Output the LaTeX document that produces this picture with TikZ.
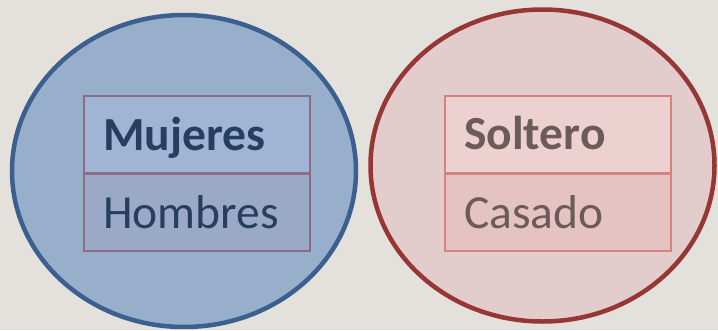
\documentclass[tikz,border=0pt]{standalone}
\usepackage{fontspec}
\setmainfont{Carlito}
\usetikzlibrary{shapes.geometric}
\definecolor{bgc}{HTML}{E4E1DD}
\definecolor{bluefill}{HTML}{98AFCB}
\definecolor{blueline}{HTML}{3B5F8E}
\definecolor{bluetop}{HTML}{A0B5D3}
\definecolor{bluebot}{HTML}{99A9C6}
\definecolor{mauve}{HTML}{8E6B84}
\definecolor{bluetext}{HTML}{263F5E}
\definecolor{redfill}{HTML}{E3CDCC}
\definecolor{redline}{HTML}{963735}
\definecolor{redtop}{HTML}{EDD1D1}
\definecolor{redbot}{HTML}{E6C3C3}
\definecolor{redbox}{HTML}{D6837F}
\definecolor{redtext}{HTML}{6B5B5B}
\tikzset{
  circ/.style={ellipse, line width=4.5pt, minimum width=344pt, minimum height=312pt, inner sep=0pt},
  cell/.style={rectangle, line width=2pt, minimum width=226pt, minimum height=77pt, inner sep=0pt},
  lab/.style={anchor=base west, inner sep=0pt, font=\fontsize{47.5}{50}\selectfont}
}
\begin{document}
\begin{tikzpicture}[x=1pt,y=-1pt]
\fill[bgc] (0,0) rectangle (718,330);
\useasboundingbox (0,0) rectangle (718,330);
% left
\node[circ, draw=blueline, fill=bluefill] (L) at (184,171) {};
\node[cell, draw=mauve, fill=bluetop] (L1) at (196.5,134.5) {};
\node[cell, draw=mauve, fill=bluebot] (L2) at (196.5,212) {};
\node[lab, text=bluetext, font=\fontsize{47.5}{50}\selectfont\bfseries] (t1) at (103,150) {Mujeres};
\node[lab, text=bluetext] (t2) at (103,228) {Hombres};
% right
\node[circ, draw=redline, fill=redfill] (R) at (542.5,165.5) {};
\node[cell, draw=redbox, fill=redtop] (R1) at (558,134.5) {};
\node[cell, draw=redbox, fill=redbot] (R2) at (558,212) {};
\node[lab, text=redtext, font=\fontsize{47.5}{50}\selectfont\bfseries] (t3) at (464,149) {Soltero};
\node[lab, text=redtext] (t4) at (464,228) {Casado};
\end{tikzpicture}
\end{document}
